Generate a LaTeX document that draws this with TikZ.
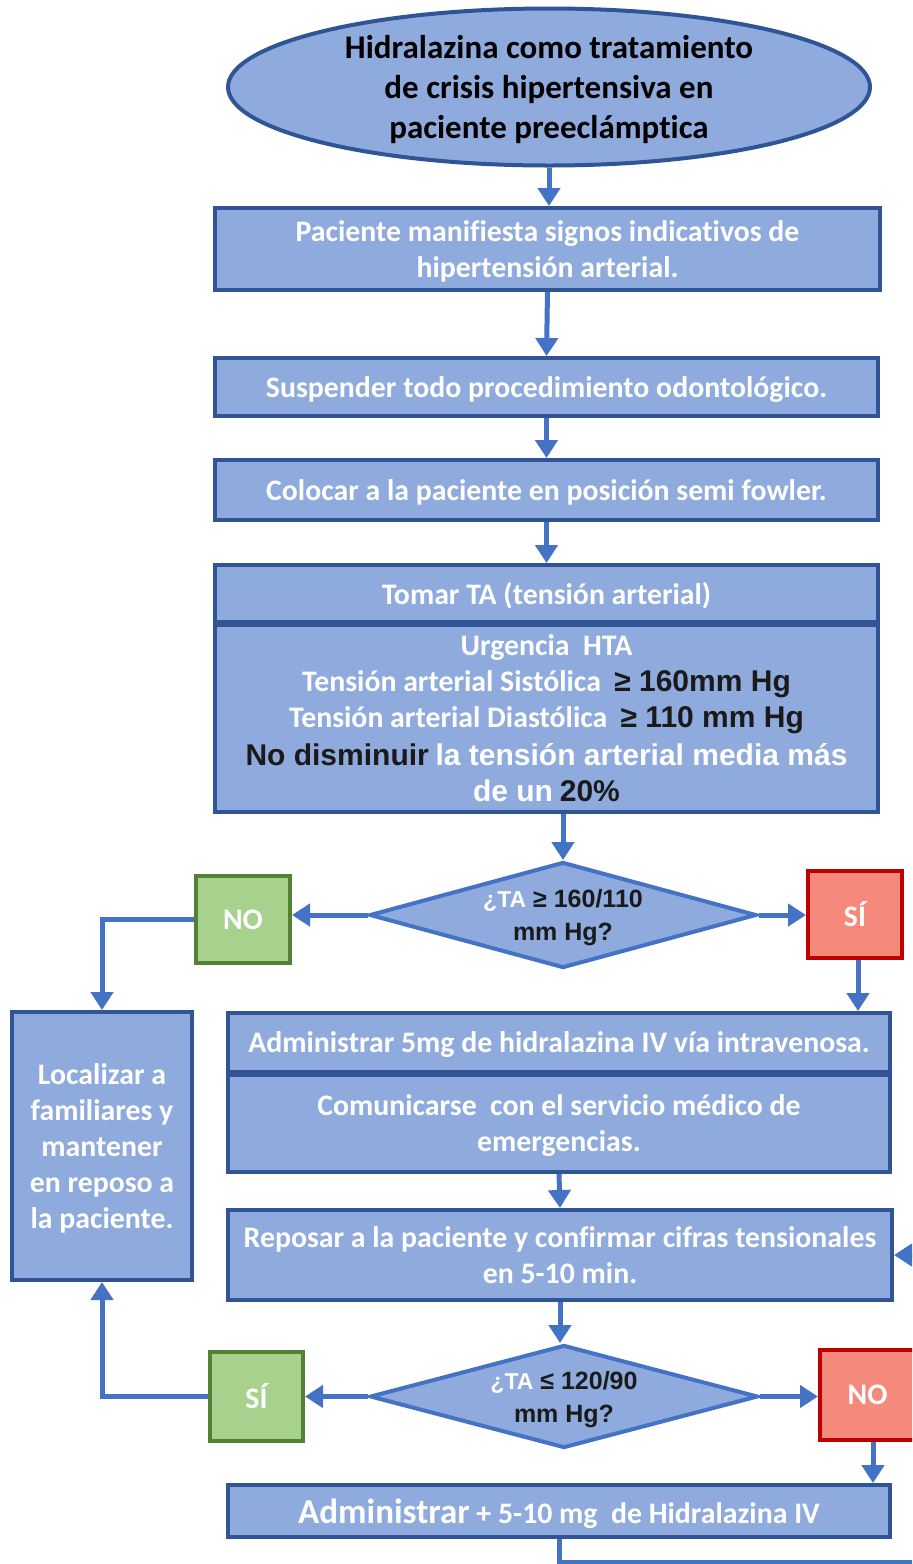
\documentclass[tikz,border=0pt]{standalone}
\usepackage{fontspec}
\setmainfont{Carlito}[Ligatures=CommonOff]
\newfontfamily\arialfont{Liberation Sans}
\usetikzlibrary{arrows.meta,positioning,shapes.geometric}

\definecolor{boxfill}{HTML}{8FAADC}
\definecolor{boxline}{HTML}{2F5597}
\definecolor{arrowblue}{HTML}{4472C4}
\definecolor{greenfill}{HTML}{A9D18E}
\definecolor{greenline}{HTML}{548235}
\definecolor{redfill}{HTML}{F4897C}
\definecolor{redline}{HTML}{C00000}
\definecolor{darktext}{HTML}{1A1A1A}

% black Arial-like parts of the texts
\newcommand{\blacktxt}[1]{{\arialfont\color{darktext}#1}}
\newcommand{\whitetxt}[1]{{\arialfont\color{white}#1}}

\begin{document}
\begin{tikzpicture}[x=0.5pt,y=-0.5pt,
    block/.style={rectangle,draw=boxline,fill=boxfill,line width=2pt,text=white,
      font=\bfseries\fontsize{14.9}{18}\selectfont,align=center,inner sep=0pt,text depth=0pt},
    startstop/.style={ellipse,draw=boxline,fill=boxfill,line width=2pt,
      font=\bfseries\fontsize{16.5}{20}\selectfont,align=center,inner sep=0pt,text depth=0pt},
    decision/.style={diamond,draw=arrowblue,fill=boxfill,line width=2pt,text=white,
      font=\arialfont\bfseries\fontsize{12.5}{16.5}\selectfont,align=center,inner sep=0pt,text depth=0pt},
    greenbox/.style={rectangle,draw=greenline,fill=greenfill,line width=2pt,text=white,
      font=\bfseries\fontsize{14.9}{18}\selectfont,inner sep=0pt},
    redbox/.style={rectangle,draw=redline,fill=redfill,line width=2pt,text=white,
      font=\bfseries\fontsize{14.9}{18}\selectfont,inner sep=0pt},
    arr/.style={draw=arrowblue,line width=2.5pt,-{Triangle[width=11pt,length=9pt]}}
  ]
  \useasboundingbox (0,0) rectangle (912,1564);
  \clip (0,0) rectangle (912,1564);

  % main column
  \node[startstop,minimum width=321pt,minimum height=78.5pt] (title) at (549,87)
    {Hidralazina como tratamiento\\de crisis hipertensiva en\\paciente preeclámptica};
  \node[block,minimum width=332.5pt,minimum height=41pt] (signos) at (547.5,249)
    {Paciente manifiesta signos indicativos de\\hipertensión arterial.};
  \node[block,minimum width=331.5pt,minimum height=29pt] (suspender) at (546.5,387)
    {Suspender todo procedimiento odontológico.};
  \node[block,minimum width=331.5pt,minimum height=30pt] (colocar) at (546.5,490)
    {Colocar a la paciente en posición semi fowler.};
  \node[block,minimum width=331.5pt,minimum height=28.5pt] (tomar) at (546.5,593.5)
    {Tomar TA (tensión arterial)};
  \node[block,minimum width=331.5pt,minimum height=93.5pt] (urgencia) at (546.5,718.5)
    {Urgencia~ HTA\\
     Tensión arterial Sistólica~ \blacktxt{\fontsize{15}{18}\selectfont≥ 160mm Hg}\\
     Tensión arterial Diastólica~ \blacktxt{\fontsize{15}{18}\selectfont≥ 110 mm Hg}\\[1pt]
     {\fontsize{15}{18.5}\selectfont\blacktxt{No disminuir} \whitetxt{la tensión arterial media más}}\\
     {\fontsize{15}{18.5}\selectfont\whitetxt{de un} \blacktxt{20\%}}};

  % first decision
  \node[decision,minimum width=193.5pt,minimum height=53pt,aspect=3.65] (ta1) at (563,915)
    {{\fontsize{11.5}{16.5}\selectfont¿TA} \blacktxt{≥ 160/110}\\\blacktxt{mm Hg?}};
  \node[greenbox,minimum width=47pt,minimum height=43.5pt] (no1) at (243,919.5) {NO};
  \node[redbox,minimum width=47pt,minimum height=43.5pt] (si1) at (855,914.5) {SÍ};

  \node[block,minimum width=90pt,minimum height=134pt] (localizar) at (102,1146)
    {Localizar a\\familiares y\\mantener\\en reposo a\\la paciente.};

  \node[block,minimum width=331pt,minimum height=29.5pt] (admin) at (559,1042.5)
    {Administrar 5mg de hidralazina IV vía intravenosa.};
  \node[block,minimum width=331pt,minimum height=48.5pt] (comunicar) at (559,1123.5)
    {Comunicarse~ con el servicio médico de\\emergencias.};
  \node[block,minimum width=332pt,minimum height=45pt] (reposar) at (560,1255)
    {Reposar a la paciente y confirmar cifras tensionales\\en 5-10 min.};

  % second decision
  \node[decision,minimum width=194pt,minimum height=51.5pt,aspect=3.75] (ta2) at (564,1396.5)
    {{\fontsize{11.5}{16.5}\selectfont¿TA} \blacktxt{≤ 120/90}\\\blacktxt{mm Hg?}};
  \node[greenbox,minimum width=46.5pt,minimum height=44.5pt] (si2) at (256.5,1396.5) {SÍ};
  \node[redbox,minimum width=47.5pt,minimum height=45pt] (no2) at (867.5,1395) {NO};

  \node[block,minimum width=331pt,minimum height=26pt] (admin2) at (559,1511)
    {{\fontsize{17.5}{20}\selectfont Administrar} + 5-10 mg~ de Hidralazina IV};
  \coordinate (loop) at (940,1562);

  % connectors
  \draw[arr] (title.south) -- (title.south |- signos.north);
  \draw[arr] (signos.south) -- (suspender.north);
  \draw[arr] (suspender.south) -- (colocar.north);
  \draw[arr] (colocar.south) -- (tomar.north);
  \draw[arr] (ta1.north |- urgencia.south) -- (ta1.north);
  \draw[arr] (ta1.west) -- (ta1.west -| no1.east);
  \draw[arr] (ta1.east) -- (ta1.east -| si1.west);
  \draw[arr] (no1.west) -| (localizar.north);
  \draw[arr] ([xshift=1.5pt]si1.south) -- ([xshift=1.5pt]si1.south |- admin.north);
  \draw[arr] (comunicar.south) -- (reposar.north);
  \draw[arr] (reposar.south) -- (reposar.south |- ta2.north);
  \draw[arr] (ta2.west) -- (ta2.west -| si2.east);
  \draw[arr] (ta2.east) -- (ta2.east -| no2.west);
  \draw[arr] (si2.west) -| (localizar.south);
  \draw[arr] ([xshift=2.75pt]no2.south) -- ([xshift=2.75pt]no2.south |- admin2.north);
  \draw[arr] (admin2.south) |- (loop) |- (reposar.east);
\end{tikzpicture}
\end{document}
